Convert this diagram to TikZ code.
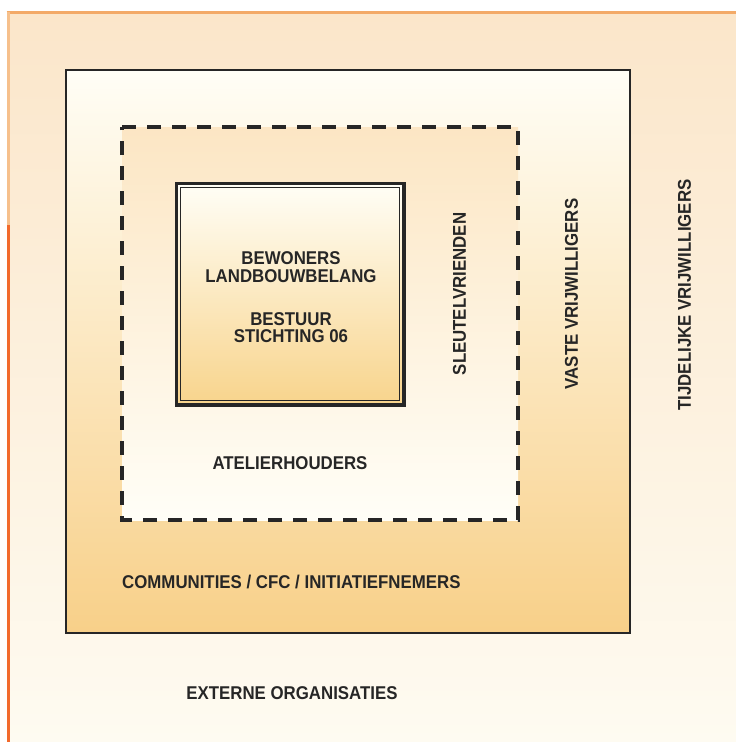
\documentclass[tikz,border=0pt]{standalone}
\usepackage{fontspec}
\setmainfont{Liberation Sans}
\newfontfamily\lblfont[FakeStretch=0.91]{Liberation Sans Bold}
\definecolor{pagetop}{HTML}{FBE6CA}
\definecolor{pagebot}{HTML}{FEFBF1}
\definecolor{outertop}{HTML}{FFFEF6}
\definecolor{outermid}{HTML}{FDF0D0}
\definecolor{outerbot}{HTML}{F8D089}
\definecolor{dashtop}{HTML}{FCE6C4}
\definecolor{dashbot}{HTML}{FFFEF7}
\definecolor{innertop}{HTML}{FFFEF6}
\definecolor{innerbot}{HTML}{F8D48C}
\definecolor{frameA}{HTML}{F3AA68}
\definecolor{frameB}{HTML}{F6C08C}
\definecolor{frameC}{HTML}{F26A2C}
\definecolor{ink}{HTML}{262626}
\tikzset{
  lbl/.style={font=\lblfont\fontsize{18.5}{18.5}\selectfont, text=ink, inner sep=0pt},
  vlbl/.style={lbl, rotate=90, anchor=center},
  dashbox/.style={draw=ink, line width=4.5pt, dash pattern=on 14pt off 11pt},
}
\begin{document}
\begin{tikzpicture}[x=1pt,y=-1pt]
\useasboundingbox (0,0) rectangle (736,742);
\fill[white] (0,0) rectangle (736,742);
% page background
\shade[top color=pagetop, bottom color=pagebot] (8,12) rectangle (736,742);
% frame lines
\draw[frameA, line width=3pt] (6.5,12) -- (736,12);
\draw[frameB, line width=3pt] (8,12) -- (8,225);
\draw[frameC, line width=3pt] (8,225) -- (8,742);
% outer box
\shade[top color=outertop, middle color=outermid, bottom color=outerbot] (66,70) rectangle (630,633);
\draw[ink, line width=1.3pt] (66,70) rectangle (630,633);
% dashed box
\shade[top color=dashtop, bottom color=dashbot] (122,127) rectangle (518,520);
\draw[dashbox] (122,127) -- (518,127) -- (518,520) -- (122,520) -- cycle;
% inner double box
\shade[top color=innertop, middle color=innertop, bottom color=innerbot] (177,184) rectangle (404,405);
\draw[ink, line width=3.2pt] (176.5,183.5) rectangle (404,405);
\draw[ink, line width=1.3pt] (180.5,187.5) rectangle (399.5,400.5);
% labels
\node[lbl, anchor=base] (bew) at (291,264) {BEWONERS};
\node[lbl, anchor=base] (lbb) at (291,282) {LANDBOUWBELANG};
\node[lbl, anchor=base] (best) at (291,325) {BESTUUR};
\node[lbl, anchor=base] (stich) at (291,342) {STICHTING 06};
\node[lbl, anchor=base] (atel) at (290,469.5) {ATELIERHOUDERS};
\node[lbl, anchor=base west] (comm) at (122,588.5) {COMMUNITIES / CFC / INITIATIEFNEMERS};
\node[lbl, anchor=base] (ext) at (292,699) {EXTERNE ORGANISATIES};
\node[vlbl] (sleu) at (459.5,294) {SLEUTELVRIENDEN};
\node[vlbl] (vast) at (571.5,294) {VASTE VRIJWILLIGERS};
\node[vlbl] (tijd) at (684.5,295) {TIJDELIJKE VRIJWILLIGERS};
\end{tikzpicture}
\end{document}
